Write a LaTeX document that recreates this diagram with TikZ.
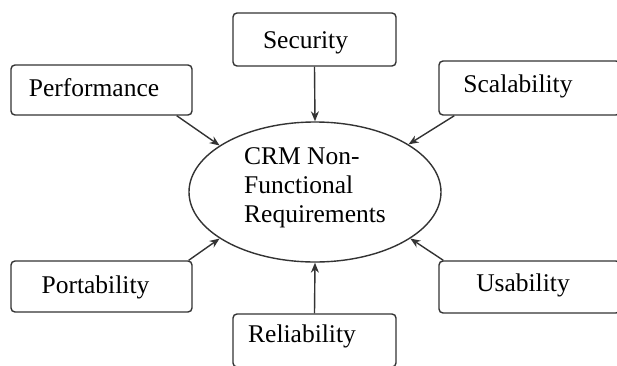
\documentclass[tikz,border=0pt]{standalone}
\usepackage{fontspec}
\setmainfont{Liberation Serif}
\usetikzlibrary{arrows.meta,shapes.geometric}
\definecolor{edgegray}{HTML}{333333}

\begin{document}
\begin{tikzpicture}[x=0.5pt,y=0.5pt]
\tikzstyle{every node}+=[inner sep=0pt, font=\fontsize{12.75}{14.5}\selectfont]
\tikzstyle{reqbox}=[rectangle, draw=edgegray, line width=0.7pt, rounded corners=2pt]
\tikzstyle{reqtext}=[text height=0.69em, text depth=0.22em]
\tikzstyle{link}=[edgegray, line width=0.7pt, -{Stealth[length=5pt,width=4pt]}]
\useasboundingbox (0,0) rectangle (617,-365);
\node [ellipse, draw=edgegray, line width=0.7pt, minimum width=126pt, minimum height=70pt,
  label={[align=left,yshift=2pt]center:CRM Non-\\Functional\\Requirements}] (crm) at (315,-192) {};
\node [reqbox, minimum width=81.5pt, minimum height=26.5pt,
  label={[reqtext,xshift=-4.5pt,yshift=-2.25pt]center:Security}] (sec) at (314.5,-39.5) {};
\node [reqbox, minimum width=90.5pt, minimum height=25pt,
  label={[reqtext,xshift=-3.75pt,yshift=-1pt]center:Performance}] (perf) at (101.5,-90) {};
\node [reqbox, minimum width=90.5pt, minimum height=27pt,
  label={[reqtext,xshift=-5.75pt]center:Scalability}] (scal) at (529.5,-88) {};
\node [reqbox, minimum width=90.5pt, minimum height=25.5pt,
  label={[reqtext,xshift=-3pt,yshift=-1.25pt]center:Portability}] (port) at (101.5,-286.5) {};
\node [reqbox, minimum width=81.5pt, minimum height=26.5pt,
  label={[reqtext,xshift=-6.25pt,yshift=1.25pt]center:Reliability}] (rel) at (314.5,-340.5) {};
\node [reqbox, minimum width=90.5pt, minimum height=26pt,
  label={[reqtext,xshift=-3.25pt]center:Usability}] (usab) at (529.5,-287) {};
\draw [link] (sec.south) -- (crm.north);
\draw [link] ([xshift=-8pt]perf.south east) -- (crm.154);
\draw [link] ([xshift=8pt]scal.south west) -- (crm.27);
\draw [link] ([xshift=-2pt]port.north east) -- (crm.206);
\draw [link] ([xshift=2.5pt]usab.north west) -- (crm.334);
\draw [link] (rel.north) -- (crm.south);
\end{tikzpicture}
\end{document}
